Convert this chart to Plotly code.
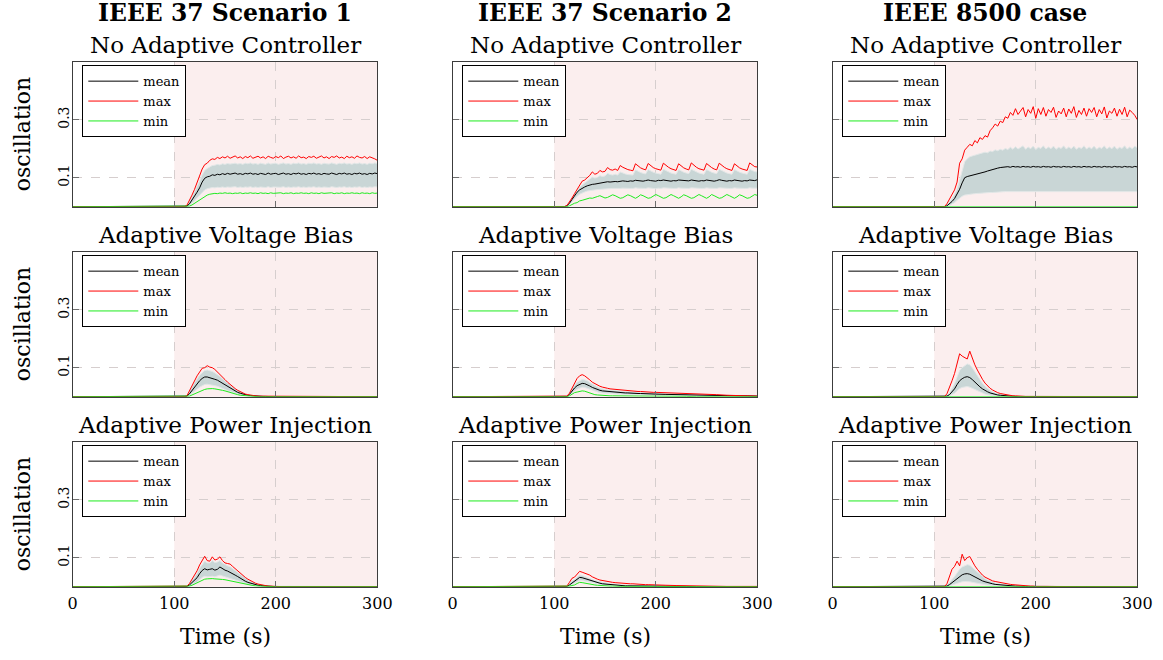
import plotly.graph_objects as go

# ---------------- time grids ----------------
T_TOP = [0, 110, 112.5, 115, 117.5, 120, 122.5, 125, 127.5, 130, 132.5,
         135, 137.5, 140, 142.5, 145, 147.5, 150, 152.5, 155, 157.5,
         160, 162.5, 165, 167.5, 170, 172.5, 175, 177.5, 180, 182.5,
         185, 187.5, 190, 192.5, 195, 197.5, 200, 202.5, 205, 207.5,
         210, 212.5, 215, 217.5, 220, 222.5, 225, 227.5, 230, 232.5,
         235, 237.5, 240, 242.5, 245, 247.5, 250, 252.5, 255, 257.5,
         260, 262.5, 265, 267.5, 270, 272.5, 275, 277.5, 280, 282.5,
         285, 287.5, 290, 292.5, 295, 297.5, 300]

T_LOW = [0, 110, 112.5, 115, 117.5, 120, 122.5, 125, 127.5, 130, 132.5,
         135, 137.5, 140, 142.5, 145, 147.5, 150, 152.5, 155, 157.5,
         160, 162.5, 165, 167.5, 170, 172.5, 175, 177.5, 180, 182.5,
         185, 187.5, 190, 192.5, 195, 197.5, 200,
         210, 220, 230, 240, 250, 260, 270, 280, 290, 300]

# ---------------- IEEE 37 Scenario 1 : No Adaptive Controller ----------------
S1_NAC_MAX = [0,
    0, .005, .02, .04, .06, .085, .11, .13, .145, .15,
    .16, .165, .163, .17, .166, .172, .168, .174, .167, .171,
    .175, .168, .172, .166, .173, .169, .175, .167, .171, .174,
    .168, .172, .166, .174, .17, .167, .173, .169, .175, .166,
    .171, .174, .168, .172, .167, .175, .169, .171, .166, .173,
    .17, .174, .167, .171, .175, .168, .172, .166, .173, .17,
    .175, .168, .171, .166, .174, .169, .172, .167, .175, .17,
    .168, .173, .166, .172, .169, .165, .16]
S1_NAC_MEAN = [0,
    0, .002, .01, .022, .035, .05, .065, .085, .098, .103,
    .105, .11, .108, .112, .11, .114, .111, .115, .112, .113,
    .116, .112, .114, .111, .115, .113, .116, .112, .114, .111,
    .115, .113, .111, .116, .112, .114, .115, .111, .113, .116,
    .112, .114, .111, .115, .113, .116, .112, .114, .111, .115,
    .113, .116, .112, .114, .111, .115, .113, .112, .116, .114,
    .111, .115, .113, .116, .112, .114, .111, .115, .113, .116,
    .112, .114, .111, .115, .113, .116, .114]
S1_NAC_HI = [0,
    0, .004, .016, .033, .05, .068, .088, .11, .125, .132,
    .138, .142, .143, .146, .144, .148, .146, .149, .147, .148,
    .15, .147, .149, .146, .15, .148, .151, .147, .149, .146,
    .15, .148, .146, .151, .147, .149, .15, .146, .148, .151,
    .147, .149, .146, .15, .148, .151, .147, .149, .146, .15,
    .148, .151, .147, .149, .146, .15, .148, .147, .151, .149,
    .146, .15, .148, .151, .147, .149, .146, .15, .148, .151,
    .147, .149, .146, .15, .148, .151, .149]
S1_NAC_LO = [0,
    0, 0, .004, .011, .02, .03, .04, .05, .058, .062,
    .064, .066, .065, .067, .066, .068, .066, .068, .067, .067,
    .069, .066, .068, .066, .068, .067, .069, .066, .068, .066,
    .068, .067, .066, .069, .066, .068, .068, .066, .067, .069,
    .066, .068, .066, .068, .067, .069, .066, .068, .066, .068,
    .067, .069, .066, .068, .066, .068, .067, .066, .069, .068,
    .066, .068, .067, .069, .066, .068, .066, .068, .067, .069,
    .066, .068, .066, .068, .067, .069, .068]
S1_NAC_MIN = [0,
    0, 0, .002, .006, .012, .018, .025, .03, .036, .04,
    .043, .045, .046, .045, .047, .046, .048, .046, .047, .045,
    .047, .046, .048, .045, .047, .046, .048, .046, .047, .045,
    .048, .046, .047, .045, .048, .046, .047, .046, .048, .045,
    .047, .046, .048, .045, .047, .046, .048, .046, .047, .045,
    .048, .046, .047, .045, .048, .046, .047, .046, .048, .045,
    .047, .046, .048, .045, .047, .046, .048, .046, .047, .045,
    .048, .046, .047, .045, .048, .046, .047]

# ---------------- IEEE 37 Scenario 2 : No Adaptive Controller ----------------
S2_NAC_MAX = [0,
    0, .004, .015, .03, .045, .06, .075, .088, .092, .1,
    .108, .12, .112, .115, .125, .12, .122, .135, .128, .126,
    .13, .125, .142, .136, .131, .128, .126, .124, .148, .14,
    .134, .13, .127, .149, .141, .135, .131, .128, .126, .15,
    .142, .136, .131, .128, .125, .148, .14, .134, .13, .127,
    .151, .143, .136, .131, .128, .126, .149, .141, .135, .13,
    .127, .15, .142, .136, .131, .128, .125, .148, .14, .134,
    .13, .127, .125, .151, .143, .138, .137]
S2_NAC_MEAN = [0,
    0, .003, .012, .025, .038, .05, .058, .064, .068, .072,
    .075, .077, .078, .08, .082, .083, .084, .086, .085, .087,
    .087, .086, .088, .089, .088, .087, .089, .088, .091, .09,
    .089, .088, .09, .092, .09, .089, .088, .091, .09, .092,
    .091, .089, .088, .09, .089, .092, .091, .09, .088, .089,
    .092, .091, .089, .088, .09, .089, .092, .09, .089, .088,
    .09, .093, .091, .089, .088, .09, .089, .092, .091, .089,
    .088, .09, .089, .092, .091, .09, .093]
S2_NAC_HI = [0,
    0, .004, .014, .028, .042, .055, .066, .075, .082, .088,
    .094, .102, .099, .101, .107, .104, .106, .115, .111, .109,
    .112, .109, .12, .116, .113, .111, .11, .109, .127, .122,
    .118, .115, .113, .128, .123, .119, .116, .114, .112, .129,
    .124, .12, .116, .114, .112, .128, .123, .119, .116, .114,
    .129, .124, .12, .116, .114, .112, .128, .123, .119, .116,
    .114, .129, .124, .12, .116, .114, .112, .128, .123, .119,
    .116, .114, .112, .129, .124, .121, .12]
S2_NAC_LO = [0,
    0, .001, .008, .018, .027, .036, .043, .048, .051, .054,
    .056, .057, .058, .059, .06, .061, .061, .062, .062, .063,
    .063, .062, .063, .064, .063, .062, .063, .063, .065, .064,
    .063, .062, .063, .065, .064, .063, .062, .064, .063, .065,
    .064, .063, .062, .063, .063, .065, .064, .063, .062, .063,
    .065, .064, .063, .062, .063, .063, .065, .064, .063, .062,
    .063, .065, .064, .063, .062, .063, .063, .065, .064, .063,
    .062, .063, .063, .065, .064, .063, .064]
S2_NAC_MIN = [0,
    0, 0, .003, .008, .012, .014, .02, .022, .025, .028,
    .03, .029, .031, .035, .038, .034, .03, .032, .037, .041,
    .038, .033, .029, .031, .036, .041, .038, .033, .029, .034,
    .041, .038, .033, .029, .031, .037, .042, .038, .033, .029,
    .031, .036, .042, .038, .033, .029, .034, .041, .038, .033,
    .029, .031, .036, .042, .038, .033, .029, .034, .042, .038,
    .033, .029, .031, .036, .042, .038, .033, .029, .034, .041,
    .038, .033, .029, .031, .036, .042, .039]

# ---------------- IEEE 8500 : No Adaptive Controller ----------------
S8_NAC_MAX = [0,
    0, .01, .025, .04, .058, .085, .15, .165, .195, .205,
    .215, .21, .228, .22, .238, .232, .245, .24, .262, .272,
    .285, .278, .295, .29, .31, .305, .325, .315, .338, .318,
    .33, .342, .31, .335, .322, .345, .305, .338, .318, .342,
    .312, .335, .325, .343, .308, .33, .32, .34, .31, .337,
    .322, .345, .308, .332, .318, .34, .312, .338, .325, .342,
    .31, .335, .32, .344, .306, .33, .322, .34, .312, .336,
    .318, .343, .31, .333, .325, .315, .3]
S8_NAC_MEAN = [0,
    0, .003, .01, .018, .028, .042, .06, .082, .1, .104,
    .106, .108, .11, .113, .115, .118, .12, .123, .126, .129,
    .131, .133, .135, .136, .137, .138, .136, .139, .137, .138,
    .136, .139, .137, .138, .136, .139, .137, .138, .136, .139,
    .137, .138, .136, .139, .137, .138, .136, .139, .137, .138,
    .136, .139, .137, .138, .136, .139, .137, .138, .136, .139,
    .137, .138, .136, .139, .137, .138, .136, .139, .137, .138,
    .136, .139, .137, .138, .136, .139, .137]
S8_NAC_HI = [0,
    0, .005, .015, .028, .042, .06, .09, .12, .155, .165,
    .172, .175, .178, .18, .183, .185, .188, .186, .192, .19,
    .196, .193, .198, .195, .201, .197, .205, .198, .207, .199,
    .204, .21, .198, .206, .2, .209, .197, .205, .201, .21,
    .199, .206, .2, .209, .198, .205, .201, .21, .199, .206,
    .2, .209, .198, .205, .201, .21, .199, .206, .2, .209,
    .198, .205, .201, .21, .199, .206, .2, .209, .198, .205,
    .201, .21, .199, .206, .2, .209, .203]
S8_NAC_LO = [0,
    0, .001, .004, .008, .014, .022, .03, .036, .04, .042,
    .043, .044, .045, .046, .046, .047, .048, .048, .049, .049,
    .05, .05, .051, .051, .052, .052, .052, .053, .052, .053,
    .052, .053, .052, .053, .052, .053, .052, .053, .052, .053,
    .052, .053, .052, .053, .052, .053, .052, .053, .052, .053,
    .052, .053, .052, .053, .052, .053, .052, .053, .052, .053,
    .052, .053, .052, .053, .052, .053, .052, .053, .052, .053,
    .052, .053, .052, .053, .052, .053, .052]
S8_NAC_MIN = [0,
    0, 0, 0, 0, 0, 0, 0, 0, 0, 0,
    0, 0, 0, 0, 0, 0, 0, 0, 0, 0,
    0, 0, 0, 0, 0, 0, 0, 0, 0, 0,
    0, 0, 0, 0, 0, 0, 0, 0, 0, 0,
    0, 0, 0, 0, 0, 0, 0, 0, 0, 0,
    0, 0, 0, 0, 0, 0, 0, 0, 0, 0,
    0, 0, 0, 0, 0, 0, 0, 0, 0, 0,
    0, 0, 0, 0, 0, 0, 0]

# ---------------- IEEE 37 Scenario 1 : Adaptive Voltage Bias ----------------
S1_AVB_MAX = [0,
    0, .003, .02, .04, .058, .072, .085, .098, .1, .107,
    .102, .1, .094, .086, .076, .068, .059, .05, .042, .034,
    .028, .022, .017, .013, .009, .007, .005, .004, .003, .002,
    .002, .001, .001, .001, 0, 0, 0,
    0, 0, 0, 0, 0, 0, 0, 0, 0, 0]
S1_AVB_MEAN = [0,
    0, .002, .01, .022, .033, .045, .055, .063, .068, .068,
    .066, .064, .06, .057, .052, .046, .04, .035, .029, .024,
    .019, .015, .012, .009, .007, .005, .004, .003, .002, .002,
    .001, .001, .001, 0, 0, 0, 0,
    0, 0, 0, 0, 0, 0, 0, 0, 0, 0]
S1_AVB_HI = [0,
    0, .003, .016, .033, .048, .062, .074, .083, .09, .092,
    .09, .087, .082, .077, .07, .062, .054, .047, .04, .033,
    .027, .021, .017, .013, .01, .007, .005, .004, .003, .002,
    .002, .001, .001, 0, 0, 0, 0,
    0, 0, 0, 0, 0, 0, 0, 0, 0, 0]
S1_AVB_LO = [0,
    0, .001, .005, .011, .018, .026, .033, .038, .042, .043,
    .042, .04, .038, .036, .033, .029, .025, .021, .018, .014,
    .011, .009, .007, .005, .004, .003, .002, .002, .001, .001,
    0, 0, 0, 0, 0, 0, 0,
    0, 0, 0, 0, 0, 0, 0, 0, 0, 0]
S1_AVB_MIN = [0,
    0, 0, .002, .006, .01, .015, .019, .023, .025, .027,
    .028, .028, .027, .026, .024, .022, .02, .017, .014, .011,
    .009, .007, .005, .004, .003, .002, .002, .001, .001, 0,
    0, 0, 0, 0, 0, 0, 0,
    0, 0, 0, 0, 0, 0, 0, 0, 0, 0]

# ---------------- IEEE 37 Scenario 2 : Adaptive Voltage Bias ----------------
S2_AVB_MAX = [0,
    0, .002, .012, .03, .045, .063, .072, .076, .072, .066,
    .058, .05, .045, .04, .036, .033, .03, .029, .027, .026,
    .025, .024, .023, .022, .021, .021, .02, .02, .019, .018,
    .018, .017, .017, .016, .016, .015, .015,
    .014, .012, .011, .009, .008, .007, .005, .004, .003, .002]
S2_AVB_MEAN = [0,
    0, .001, .008, .02, .03, .038, .043, .046, .045, .042,
    .037, .032, .028, .025, .022, .02, .019, .018, .017, .016,
    .015, .015, .014, .014, .013, .013, .012, .012, .012, .011,
    .011, .011, .01, .01, .01, .009, .009,
    .008, .007, .006, .006, .005, .004, .004, .003, .003, .002]
S2_AVB_HI = [0,
    0, .002, .011, .026, .04, .05, .056, .059, .058, .055,
    .049, .043, .038, .034, .03, .027, .025, .024, .023, .022,
    .021, .02, .019, .019, .018, .017, .017, .016, .016, .015,
    .015, .014, .014, .013, .013, .012, .012,
    .011, .01, .009, .008, .007, .006, .005, .004, .003, .002]
S2_AVB_LO = [0,
    0, 0, .005, .014, .02, .026, .03, .033, .032, .029,
    .025, .021, .018, .016, .014, .013, .012, .011, .011, .01,
    .009, .009, .009, .008, .008, .008, .007, .007, .007, .007,
    .006, .006, .006, .006, .005, .005, .005,
    .005, .004, .003, .003, .003, .002, .002, .002, .001, .001]
S2_AVB_MIN = [0,
    0, 0, .003, .01, .014, .016, .018, .02, .019, .016,
    .012, .009, .007, .006, .005, .004, .004, .003, .003, .003,
    .003, .002, .002, .002, .002, .002, .002, .002, .001, .001,
    .001, .001, .001, .001, .001, .001, .001,
    .001, .001, .001, 0, 0, 0, 0, 0, 0, 0]

# ---------------- IEEE 8500 : Adaptive Voltage Bias ----------------
S8_AVB_MAX = [0,
    0, .01, .03, .055, .08, .11, .148, .14, .135, .13,
    .157, .13, .11, .092, .075, .06, .047, .037, .029, .023,
    .018, .014, .011, .009, .007, .005, .004, .003, .003, .002,
    .002, .001, .001, .001, .001, 0, 0,
    0, 0, 0, 0, 0, 0, 0, 0, 0, 0]
S8_AVB_MEAN = [0,
    0, .002, .007, .016, .027, .042, .055, .062, .067, .069,
    .066, .059, .05, .042, .034, .027, .021, .017, .013, .01,
    .008, .006, .005, .004, .003, .002, .002, .001, .001, 0,
    0, 0, 0, 0, 0, 0, 0,
    0, 0, 0, 0, 0, 0, 0, 0, 0, 0]
S8_AVB_HI = [0,
    0, .003, .012, .028, .045, .068, .09, .1, .108, .113,
    .11, .1, .086, .072, .058, .046, .036, .028, .022, .017,
    .013, .01, .008, .006, .005, .004, .003, .002, .002, .001,
    .001, 0, 0, 0, 0, 0, 0,
    0, 0, 0, 0, 0, 0, 0, 0, 0, 0]
S8_AVB_LO = [0,
    0, .001, .003, .007, .012, .02, .028, .032, .034, .035,
    .033, .029, .024, .02, .016, .012, .009, .007, .005, .004,
    .003, .002, .002, .001, .001, .001, 0, 0, 0, 0,
    0, 0, 0, 0, 0, 0, 0,
    0, 0, 0, 0, 0, 0, 0, 0, 0, 0]
S8_AVB_MIN = [0,
    0, 0, 0, 0, 0, 0, 0, 0, 0, 0,
    0, 0, 0, 0, 0, 0, 0, 0, 0, 0,
    0, 0, 0, 0, 0, 0, 0, 0, 0, 0,
    0, 0, 0, 0, 0, 0, 0,
    0, 0, 0, 0, 0, 0, 0, 0, 0, 0]

# ---------------- IEEE 37 Scenario 1 : Adaptive Power Injection ----------------
S1_API_MAX = [0,
    0, .002, .011, .025, .04, .055, .075, .09, .105, .09,
    .088, .103, .092, .095, .103, .09, .082, .08, .078, .07,
    .062, .054, .046, .039, .032, .026, .021, .016, .012, .009,
    .007, .005, .003, .002, .002, .001, .001,
    0, 0, 0, 0, 0, 0, 0, 0, 0, 0]
S1_API_MEAN = [0,
    0, .001, .006, .014, .022, .031, .045, .056, .062, .058,
    .06, .062, .057, .06, .068, .062, .057, .054, .05, .045,
    .04, .035, .029, .024, .019, .015, .012, .009, .007, .005,
    .004, .003, .002, .001, .001, .001, 0,
    0, 0, 0, 0, 0, 0, 0, 0, 0, 0]
S1_API_HI = [0,
    0, .002, .01, .022, .034, .046, .064, .077, .088, .082,
    .082, .09, .083, .085, .09, .082, .076, .072, .069, .062,
    .056, .049, .042, .035, .029, .023, .018, .014, .011, .008,
    .006, .004, .003, .002, .001, .001, 0,
    0, 0, 0, 0, 0, 0, 0, 0, 0, 0]
S1_API_LO = [0,
    0, 0, .003, .008, .012, .016, .024, .032, .036, .034,
    .035, .036, .034, .036, .04, .037, .034, .032, .03, .027,
    .024, .021, .017, .014, .011, .009, .007, .005, .004, .003,
    .002, .002, .001, .001, 0, 0, 0,
    0, 0, 0, 0, 0, 0, 0, 0, 0, 0]
S1_API_MIN = [0,
    0, 0, .002, .005, .009, .013, .018, .022, .026, .027,
    .028, .028, .027, .027, .026, .025, .024, .022, .02, .018,
    .016, .014, .012, .01, .008, .006, .005, .004, .003, .002,
    .002, .001, .001, .001, 0, 0, 0,
    0, 0, 0, 0, 0, 0, 0, 0, 0, 0]

# ---------------- IEEE 37 Scenario 2 : Adaptive Power Injection ----------------
S2_API_MAX = [0,
    0, .002, .015, .029, .033, .045, .053, .05, .047, .044,
    .04, .034, .029, .026, .023, .021, .019, .018, .016, .015,
    .014, .013, .013, .012, .011, .011, .01, .01, .009, .009,
    .008, .008, .007, .007, .007, .006, .006,
    .005, .004, .003, .003, .002, .002, .001, .001, .001, .001]
S2_API_MEAN = [0,
    0, .001, .006, .013, .018, .026, .032, .031, .028, .026,
    .023, .019, .016, .014, .012, .01, .009, .008, .007, .006,
    .005, .005, .004, .004, .003, .003, .003, .003, .002, .002,
    .002, .002, .002, .001, .001, .001, .001,
    .001, .001, .001, 0, 0, 0, 0, 0, 0, 0]
S2_API_HI = [0,
    0, .002, .01, .02, .025, .034, .04, .039, .036, .033,
    .03, .025, .021, .019, .016, .014, .012, .011, .01, .009,
    .008, .007, .006, .006, .005, .005, .004, .004, .004, .003,
    .003, .003, .003, .002, .002, .002, .002,
    .002, .001, .001, .001, .001, 0, 0, 0, 0, 0]
S2_API_LO = [0,
    0, 0, .003, .007, .011, .017, .022, .022, .02, .018,
    .016, .013, .011, .009, .008, .007, .006, .005, .004, .004,
    .003, .003, .002, .002, .002, .002, .002, .001, .001, .001,
    .001, .001, .001, .001, .001, 0, 0,
    0, 0, 0, 0, 0, 0, 0, 0, 0, 0]
S2_API_MIN = [0,
    0, 0, .002, .004, .006, .011, .015, .014, .012, .01,
    .009, .007, .006, .005, .004, .003, .003, .002, .002, .002,
    .001, .001, .001, .001, .001, .001, 0, 0, 0, 0,
    0, 0, 0, 0, 0, 0, 0,
    0, 0, 0, 0, 0, 0, 0, 0, 0, 0]

# ---------------- IEEE 8500 : Adaptive Power Injection ----------------
S8_API_MAX = [0,
    0, .01, .035, .06, .07, .088, .072, .112, .09, .1,
    .104, .085, .072, .06, .048, .04, .033, .028, .024, .02,
    .018, .016, .014, .012, .01, .009, .008, .007, .006, .005,
    .005, .004, .003, .003, .002, .002, .001,
    .001, 0, 0, 0, 0, 0, 0, 0, 0, 0]
S8_API_MEAN = [0,
    0, .002, .007, .014, .02, .028, .036, .041, .044, .045,
    .043, .038, .033, .028, .024, .02, .017, .014, .012, .01,
    .008, .007, .006, .005, .004, .003, .003, .002, .002, .002,
    .001, .001, .001, .001, .001, 0, 0,
    0, 0, 0, 0, 0, 0, 0, 0, 0, 0]
S8_API_HI = [0,
    0, .004, .013, .025, .035, .048, .06, .068, .073, .076,
    .074, .066, .057, .049, .041, .034, .028, .023, .019, .016,
    .013, .011, .009, .008, .006, .005, .004, .004, .003, .003,
    .002, .002, .002, .001, .001, .001, 0,
    0, 0, 0, 0, 0, 0, 0, 0, 0, 0]
S8_API_LO = [0,
    0, .001, .003, .006, .009, .012, .015, .017, .018, .018,
    .017, .015, .013, .011, .009, .008, .007, .006, .005, .004,
    .003, .003, .002, .002, .002, .001, .001, .001, .001, .001,
    0, 0, 0, 0, 0, 0, 0,
    0, 0, 0, 0, 0, 0, 0, 0, 0, 0]
S8_API_MIN = [0,
    0, 0, 0, 0, 0, 0, 0, 0, 0, 0,
    0, 0, 0, 0, 0, 0, 0, 0, 0, 0,
    0, 0, 0, 0, 0, 0, 0, 0, 0, 0,
    0, 0, 0, 0, 0, 0, 0,
    0, 0, 0, 0, 0, 0, 0, 0, 0, 0]

# ---------------- labels ----------------
COLUMN_TITLES = ["IEEE 37 Scenario 1", "IEEE 37 Scenario 2", "IEEE 8500 case"]
ROW_TITLES = ["No Adaptive Controller", "Adaptive Voltage Bias", "Adaptive Power Injection"]
SERIES_NAMES = ["mean", "max", "min"]
X_TICKS = [0, 100, 200, 300]
Y_TICKS = [0.1, 0.3]
Y_TICK_TEXT = ["0.1", "0.3"]
X_TITLE = "Time (s)"
Y_TITLE = "oscillation"
DISTURBANCE = [100, 300]

# (time, mean, max, min, band low, band high) per panel, row by row
PANELS = [
    [(T_TOP, S1_NAC_MEAN, S1_NAC_MAX, S1_NAC_MIN, S1_NAC_LO, S1_NAC_HI),
     (T_TOP, S2_NAC_MEAN, S2_NAC_MAX, S2_NAC_MIN, S2_NAC_LO, S2_NAC_HI),
     (T_TOP, S8_NAC_MEAN, S8_NAC_MAX, S8_NAC_MIN, S8_NAC_LO, S8_NAC_HI)],
    [(T_LOW, S1_AVB_MEAN, S1_AVB_MAX, S1_AVB_MIN, S1_AVB_LO, S1_AVB_HI),
     (T_LOW, S2_AVB_MEAN, S2_AVB_MAX, S2_AVB_MIN, S2_AVB_LO, S2_AVB_HI),
     (T_LOW, S8_AVB_MEAN, S8_AVB_MAX, S8_AVB_MIN, S8_AVB_LO, S8_AVB_HI)],
    [(T_LOW, S1_API_MEAN, S1_API_MAX, S1_API_MIN, S1_API_LO, S1_API_HI),
     (T_LOW, S2_API_MEAN, S2_API_MAX, S2_API_MIN, S2_API_LO, S2_API_HI),
     (T_LOW, S8_API_MEAN, S8_API_MAX, S8_API_MIN, S8_API_LO, S8_API_HI)],
]

for row in PANELS:
    for p in row:
        for s in p[1:]:
            assert len(s) == len(p[0]), (len(s), len(p[0]))

# ---------------- styling ----------------
W, H = 1163, 660
FONT = "DejaVu Serif"
COL_PX = [(72.7, 377.3), (452.7, 757.3), (832.7, 1137.3)]
ROW_PX = [(61.7, 206.7), (251.7, 396.7), (441.7, 586.7)]
SUB_MID = [45, 235, 425]
C_MEAN, C_MAX, C_MIN = "rgb(0,0,0)", "rgb(255,0,0)", "rgb(30,235,30)"
C_BAND = "rgb(201,214,214)"
C_BAND_EDGE = "rgb(226,231,231)"
C_PINK = "rgb(251,238,238)"
C_GRID = "rgb(214,206,206)"
C_FRAME = "rgb(60,60,60)"

fig = go.Figure()
layout = dict(width=W, height=H,
              margin=dict(l=0, r=0, t=0, b=0, autoexpand=False),
              paper_bgcolor="white", plot_bgcolor="white",
              font=dict(family=FONT, color="black"),
              showlegend=True, shapes=[], annotations=[])

for r in range(3):
    for c in range(3):
        i = r * 3 + c + 1
        sfx = "" if i == 1 else str(i)
        xa, ya = "x" + sfx, "y" + sfx
        leg = "legend" + sfx
        t, mean, mx, mn, lo, hi = PANELS[r][c]

        fig.add_trace(go.Scatter(x=t, y=lo, xaxis=xa, yaxis=ya, mode="lines",
                                 line=dict(color=C_BAND_EDGE, width=1),
                                 showlegend=False, hoverinfo="skip", legend=leg))
        fig.add_trace(go.Scatter(x=t, y=hi, xaxis=xa, yaxis=ya, mode="lines",
                                 line=dict(color=C_BAND_EDGE, width=1),
                                 fill="tonexty", fillcolor=C_BAND,
                                 showlegend=False, hoverinfo="skip", legend=leg))
        for name, ys, col in zip(SERIES_NAMES, [mean, mx, mn], [C_MEAN, C_MAX, C_MIN]):
            fig.add_trace(go.Scatter(x=t, y=ys, xaxis=xa, yaxis=ya, mode="lines",
                                     name=name, line=dict(color=col, width=1),
                                     legend=leg))

        x0, x1 = COL_PX[c]
        y0, y1 = ROW_PX[r]
        layout["xaxis" + sfx] = dict(
            domain=[x0 / W, x1 / W], anchor=ya, range=[0, 300],
            tickvals=X_TICKS, ticktext=[str(v) for v in X_TICKS],
            showticklabels=(r == 2), ticks="inside", ticklen=6, tickwidth=1.2,
            tickcolor="rgb(110,110,110)",
            showline=True, linecolor=C_FRAME, linewidth=1.3, mirror=True,
            showgrid=True, gridcolor=C_GRID, griddash="dash", gridwidth=1,
            zeroline=False, tickfont=dict(size=16, family=FONT, color="black"),
            ticklabelstandoff=2)
        layout["yaxis" + sfx] = dict(
            domain=[1 - y1 / H, 1 - y0 / H], anchor=xa, range=[0, 0.5],
            tickvals=Y_TICKS, ticktext=Y_TICK_TEXT, tickangle=-90,
            showticklabels=(c == 0), ticks="inside", ticklen=6, tickwidth=1.2,
            tickcolor="rgb(110,110,110)",
            showline=True, linecolor=C_FRAME, linewidth=1.3, mirror=True,
            showgrid=True, gridcolor=C_GRID, griddash="dash", gridwidth=1,
            zeroline=False, tickfont=dict(size=14, family=FONT, color="black"),
            ticklabelstandoff=-3)
        layout[leg] = dict(
            x=(x0 + 9.6) / W, y=1 - (y0 + 3.5) / H, xanchor="left", yanchor="top",
            xref="paper", yref="paper", traceorder="normal",
            bgcolor="white", bordercolor="black", borderwidth=1,
            font=dict(size=13, family=FONT, color="black"),
            tracegroupgap=0, itemwidth=50)
        layout["shapes"].append(dict(
            type="rect", xref=xa, yref=ya + " domain",
            x0=DISTURBANCE[0], x1=DISTURBANCE[1], y0=0, y1=1,
            fillcolor=C_PINK, line=dict(width=0), layer="below"))

# column titles, row subtitles, axis titles
for c in range(3):
    xc = (COL_PX[c][0] + COL_PX[c][1]) / 2 / W
    layout["annotations"].append(dict(
        text="<b>" + COLUMN_TITLES[c] + "</b>", x=xc, y=1 - 13 / H,
        xref="paper", yref="paper", xanchor="center", yanchor="middle",
        showarrow=False, font=dict(size=23.5, family=FONT, color="black")))
    for r in range(3):
        layout["annotations"].append(dict(
            text=ROW_TITLES[r], x=xc, y=1 - SUB_MID[r] / H,
            xref="paper", yref="paper", xanchor="center", yanchor="middle",
            showarrow=False, font=dict(size=23, family=FONT, color="black")))
    layout["annotations"].append(dict(
        text=X_TITLE, x=xc, y=1 - 636 / H,
        xref="paper", yref="paper", xanchor="center", yanchor="middle",
        showarrow=False, font=dict(size=22, family=FONT, color="black")))

for r in range(3):
    yc = 1 - (ROW_PX[r][0] + ROW_PX[r][1]) / 2 / H
    layout["annotations"].append(dict(
        text=Y_TITLE, x=22 / W, y=yc, textangle=-90,
        xref="paper", yref="paper", xanchor="center", yanchor="middle",
        showarrow=False, font=dict(size=22, family=FONT, color="black")))

fig.update_layout(**layout)
fig.write_html("out.html", config={"displayModeBar": False},
               post_script="document.body.style.margin='0';")
